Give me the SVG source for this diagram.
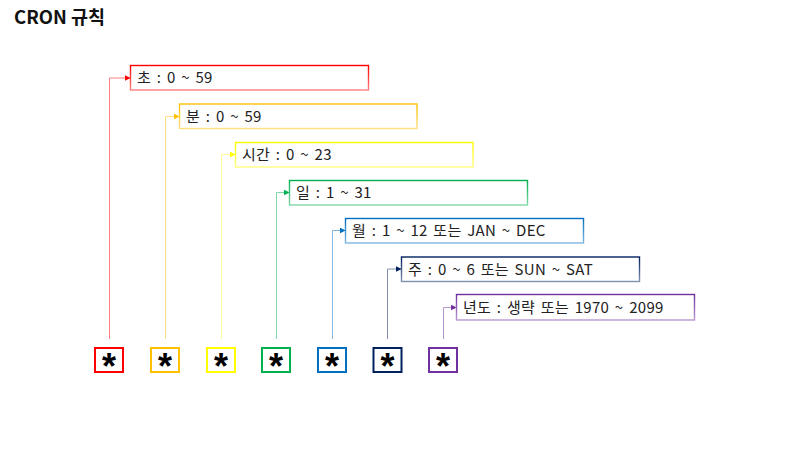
<svg xmlns="http://www.w3.org/2000/svg" width="800" height="450" viewBox="0 0 800 450">
<defs>
<style>
.t{font-family:"Malgun Gothic","Noto Sans CJK KR","Noto Sans",sans-serif;font-size:15px;letter-spacing:0.3px;word-spacing:2px;fill:#222}
.title{font-family:"Noto Sans CJK KR","Noto Sans",sans-serif;font-size:18.5px;font-weight:bold;fill:#111}
.lb{fill:#fff;stroke-width:1.4}
.sb{fill:#fff;stroke-width:2}
.star{font-family:"Liberation Sans",Arial,sans-serif;font-size:36px;font-weight:bold;fill:#000;text-anchor:middle}
.c{fill:none;stroke-width:1}
</style>
<linearGradient id="gR" x1="0" y1="0" x2="0" y2="1"><stop offset="0" stop-color="#FF0000"/><stop offset="1" stop-color="#FF8080"/></linearGradient>
<linearGradient id="gO" x1="0" y1="0" x2="0" y2="1"><stop offset="0" stop-color="#FFC000"/><stop offset="1" stop-color="#FFE080"/></linearGradient>
<linearGradient id="gY" x1="0" y1="0" x2="0" y2="1"><stop offset="0" stop-color="#FFFF00"/><stop offset="1" stop-color="#FFFF80"/></linearGradient>
<linearGradient id="gG" x1="0" y1="0" x2="0" y2="1"><stop offset="0" stop-color="#00B050"/><stop offset="1" stop-color="#80D8A8"/></linearGradient>
<linearGradient id="gB" x1="0" y1="0" x2="0" y2="1"><stop offset="0" stop-color="#0070C0"/><stop offset="1" stop-color="#80B8E0"/></linearGradient>
<linearGradient id="gN" x1="0" y1="0" x2="0" y2="1"><stop offset="0" stop-color="#002060"/><stop offset="1" stop-color="#8090B0"/></linearGradient>
<linearGradient id="gP" x1="0" y1="0" x2="0" y2="1"><stop offset="0" stop-color="#7030A0"/><stop offset="1" stop-color="#B898D0"/></linearGradient>
<marker id="aR" viewBox="0 0 10 10" refX="9" refY="5" markerWidth="6" markerHeight="6" markerUnits="userSpaceOnUse" orient="auto"><path d="M0,0L10,5L0,10z" fill="#FF0000"/></marker>
<marker id="aO" viewBox="0 0 10 10" refX="9" refY="5" markerWidth="6" markerHeight="6" markerUnits="userSpaceOnUse" orient="auto"><path d="M0,0L10,5L0,10z" fill="#FFC000"/></marker>
<marker id="aY" viewBox="0 0 10 10" refX="9" refY="5" markerWidth="6" markerHeight="6" markerUnits="userSpaceOnUse" orient="auto"><path d="M0,0L10,5L0,10z" fill="#FFFF00"/></marker>
<marker id="aG" viewBox="0 0 10 10" refX="9" refY="5" markerWidth="6" markerHeight="6" markerUnits="userSpaceOnUse" orient="auto"><path d="M0,0L10,5L0,10z" fill="#00B050"/></marker>
<marker id="aB" viewBox="0 0 10 10" refX="9" refY="5" markerWidth="6" markerHeight="6" markerUnits="userSpaceOnUse" orient="auto"><path d="M0,0L10,5L0,10z" fill="#0070C0"/></marker>
<marker id="aN" viewBox="0 0 10 10" refX="9" refY="5" markerWidth="6" markerHeight="6" markerUnits="userSpaceOnUse" orient="auto"><path d="M0,0L10,5L0,10z" fill="#002060"/></marker>
<marker id="aP" viewBox="0 0 10 10" refX="9" refY="5" markerWidth="6" markerHeight="6" markerUnits="userSpaceOnUse" orient="auto"><path d="M0,0L10,5L0,10z" fill="#7030A0"/></marker>
</defs>
<rect width="800" height="450" fill="#fff"/>
<text class="title" x="14" y="24">CRON 규칙</text>

<g id="connectors">
<path class="c" d="M109.5,339 V78 H130" stroke="#FF8080" marker-end="url(#aR)"/>
<path class="c" d="M165.5,339 V116.5 H179" stroke="#FFE080" marker-end="url(#aO)"/>
<path class="c" d="M221.5,339 V154.5 H235" stroke="#FFFF99" marker-end="url(#aY)"/>
<path class="c" d="M276.5,339 V192.5 H289" stroke="#80D8A8" marker-end="url(#aG)"/>
<path class="c" d="M332.5,339 V230.5 H345" stroke="#80B8E0" marker-end="url(#aB)"/>
<path class="c" d="M387.5,339 V269 H401" stroke="#8090B0" marker-end="url(#aN)"/>
<path class="c" d="M443.5,339 V307.5 H456" stroke="#B898D0" marker-end="url(#aP)"/>
</g>

<g id="label-sec"><rect class="lb" x="130.5" y="65.5" width="238" height="24.5" stroke="url(#gR)"/><text class="t" x="137" y="83">초 : 0 ~ 59</text></g>
<g id="label-min"><rect class="lb" x="179.5" y="104" width="237.5" height="24.5" stroke="url(#gO)"/><text class="t" x="186" y="121.5">분 : 0 ~ 59</text></g>
<g id="label-hour"><rect class="lb" x="235.5" y="142.5" width="237.5" height="24.5" stroke="url(#gY)"/><text class="t" x="242" y="160">시간 : 0 ~ 23</text></g>
<g id="label-day"><rect class="lb" x="289.5" y="180.5" width="238" height="24.5" stroke="url(#gG)"/><text class="t" x="296" y="198">일 : 1 ~ 31</text></g>
<g id="label-month"><rect class="lb" x="345.5" y="218.5" width="238" height="24.5" stroke="url(#gB)"/><text class="t" x="352" y="236">월 : 1 ~ 12 또는 JAN ~ DEC</text></g>
<g id="label-week"><rect class="lb" x="401.5" y="257" width="238" height="24.5" stroke="url(#gN)"/><text class="t" x="408" y="274.5">주 : 0 ~ 6 또는 SUN ~ SAT</text></g>
<g id="label-year"><rect class="lb" x="456.5" y="294.5" width="238" height="25.5" stroke="url(#gP)"/><text class="t" x="463" y="312.5">년도 : 생략 또는 1970 ~ 2099</text></g>

<g id="star-1"><rect class="sb" x="95" y="348" width="28" height="24" stroke="#FF0000"/><text class="star" x="109" y="379">*</text></g>
<g id="star-2"><rect class="sb" x="151" y="348" width="28" height="24" stroke="#FFC000"/><text class="star" x="165" y="379">*</text></g>
<g id="star-3"><rect class="sb" x="207" y="348" width="28" height="24" stroke="#FFFF00"/><text class="star" x="221" y="379">*</text></g>
<g id="star-4"><rect class="sb" x="262" y="348" width="28" height="24" stroke="#00B050"/><text class="star" x="276" y="379">*</text></g>
<g id="star-5"><rect class="sb" x="318" y="348" width="28" height="24" stroke="#0070C0"/><text class="star" x="332" y="379">*</text></g>
<g id="star-6"><rect class="sb" x="373.5" y="348" width="28" height="24" stroke="#002060"/><text class="star" x="387.5" y="379">*</text></g>
<g id="star-7"><rect class="sb" x="429" y="348" width="28" height="24" stroke="#7030A0"/><text class="star" x="443" y="379">*</text></g>
</svg>
